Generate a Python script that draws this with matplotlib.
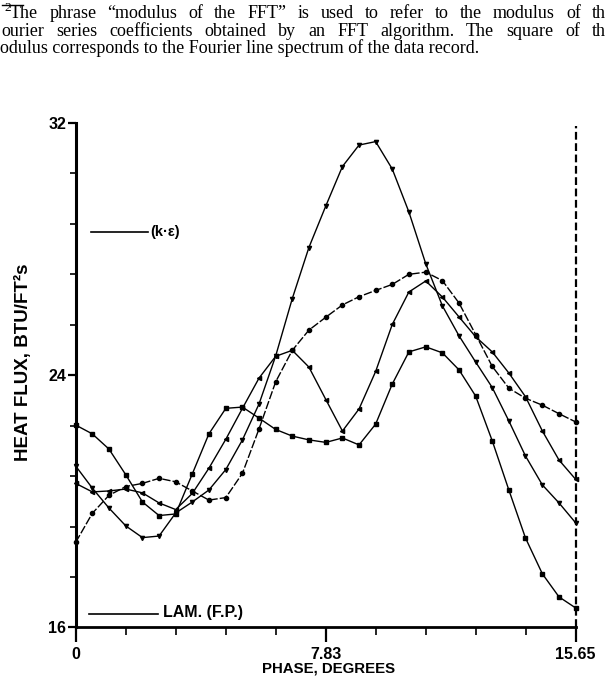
import matplotlib
matplotlib.use("Agg")
import matplotlib.pyplot as plt
from matplotlib.lines import Line2D

# phase grid (degrees) at which the points were plotted
phase = [0.00, 0.52, 1.04, 1.57, 2.09, 2.61, 3.13, 3.65, 4.17, 4.70, 5.22,
         5.74, 6.26, 6.78, 7.30, 7.83, 8.35, 8.87, 9.39, 9.91, 10.43,
         10.96, 11.48, 12.00, 12.52, 13.04, 13.56, 14.08, 14.61, 15.13, 15.65]

# heat flux, BTU/ft^2 s
flux_1 = [22.42, 22.14, 21.66, 20.84, 19.98, 19.55, 19.60, 20.87, 22.14, 22.95, 22.99,
          22.64, 22.28, 22.07, 21.95, 21.87, 22.01, 21.79, 22.45, 23.72, 24.74,
          24.90, 24.71, 24.17, 23.34, 21.92, 20.36, 18.84, 17.70, 16.97, 16.62]
flux_2 = [21.12, 20.42, 19.79, 19.22, 18.85, 18.90, 19.63, 19.98, 20.36, 21.01, 21.95,
          23.09, 24.61, 26.43, 28.05, 29.37, 30.62, 31.30, 31.41, 30.54, 29.18,
          27.53, 26.20, 25.25, 24.42, 23.61, 22.55, 21.44, 20.52, 19.95, 19.32]
flux_3 = [20.57, 20.30, 20.33, 20.39, 20.27, 19.95, 19.74, 20.25, 21.05, 21.97, 22.95,
          23.91, 24.60, 24.79, 24.26, 23.23, 22.23, 22.93, 24.12, 25.61, 26.64,
          26.99, 26.48, 25.85, 25.22, 24.74, 24.07, 23.32, 22.23, 21.31, 20.70]
flux_4 = [18.70, 19.62, 20.19, 20.47, 20.57, 20.73, 20.62, 20.33, 20.04, 20.12, 20.89,
          22.30, 23.79, 24.79, 25.43, 25.84, 26.23, 26.49, 26.69, 26.88, 27.20,
          27.27, 27.00, 26.29, 25.29, 24.28, 23.59, 23.27, 23.05, 22.78, 22.52]

x_labels = ["0", "7.83", "15.65"]
y_labels = ["16", "24", "32"]
legend_labels = ["(k\u00b7\u03b5)", "LAM. (F.P.)"]

footnote = [
    "The phrase \u201cmodulus of the FFT\u201d is used to refer to the modulus of th",
    "ourier series coefficients obtained by an FFT algorithm. The square of th",
    "odulus corresponds to the Fourier line spectrum of the data record.",
]

bold = dict(family="Liberation Sans", fontweight="bold")
serif = dict(family="Liberation Serif", fontsize=13)


def justified(fig, text, x0, x1, y):
    """Spread the words of one line between x0 and x1 (figure pixels)."""
    r = fig.canvas.get_renderer()
    words = text.split()
    arts = [fig.text(0, y, w, va="center", **serif) for w in words]
    widths = [a.get_window_extent(r).width for a in arts]
    gap = (x1 - x0 - sum(widths)) / (len(words) - 1)
    x = x0
    for a, w in zip(arts, widths):
        a.set_x(x / fig.bbox.width)
        x += w + gap


fig = plt.figure(figsize=(6.07, 6.81), dpi=100)
ax = fig.add_axes([0.1247, 0.0786, 0.8236, 0.7408])

line_kw = dict(color="black", lw=1.0, ms=3.0, clip_on=False)
ax.plot(phase, flux_1, marker="s", **line_kw)
ax.plot(phase, flux_2, marker="v", **line_kw)
ax.plot(phase, flux_3, marker="<", **line_kw)
ax.plot(phase, flux_4, marker="o", ls=(0, (6, 1.5)), **line_kw)

# dashed end-of-cycle line
ax.plot([15.65, 15.65], [16, 31.9], color="black", lw=1.6, ls=(0, (3.5, 1.6)), clip_on=False)

ax.set_xlim(0, 15.65)
ax.set_ylim(16, 32)
ax.set_xticks([0, 7.83, 15.65])
ax.set_xticklabels(x_labels, **bold, fontsize=11.5)
ax.set_xticks([15.65 * i / 10 for i in range(11)], minor=True)
ax.set_yticks([16, 24, 32])
ax.set_yticklabels(y_labels, **bold, fontsize=11.5)
ax.set_yticks([16 + 1.6 * i for i in range(11)], minor=True)
ax.tick_params(axis="x", which="major", length=11, width=1.6, pad=3)
ax.tick_params(axis="x", which="minor", length=5.5, width=1.2)
ax.tick_params(axis="y", which="major", length=6, width=1.6, pad=1)
ax.tick_params(axis="y", which="minor", length=4, width=1.2)

for side in ["top", "right"]:
    ax.spines[side].set_visible(False)
ax.spines["left"].set_linewidth(2.2)
ax.spines["bottom"].set_linewidth(2.0)

ax.set_xlabel("PHASE, DEGREES", **bold, fontsize=10.8)
ax.xaxis.set_label_coords(0.505, -0.068)
ax.set_ylabel("HEAT FLUX, BTU/FT\u00b2s", **bold, fontsize=13.5)
ax.yaxis.set_label_coords(-0.088, 0.526)

# hand-drawn legend keys
ax.plot([0.031, 0.145], [0.784, 0.784], transform=ax.transAxes, color="black", lw=1.2)
ax.text(0.149, 0.784, legend_labels[0], transform=ax.transAxes, va="center", ha="left",
        **bold, fontsize=10.5)
ax.plot([0.027, 0.165], [0.027, 0.027], transform=ax.transAxes, color="black", lw=1.2)
ax.text(0.175, 0.029, legend_labels[1], transform=ax.transAxes, va="center", ha="left",
        **bold, fontsize=11.5)

# footnote text from the page above the chart (justified lines)
fig.add_artist(Line2D([0.003, 0.038], [0.9925, 0.9925], color="black", lw=1.0))
fig.text(0.007, 0.9885, "2", family="Liberation Serif", fontsize=9.5, va="center")
justified(fig, footnote[0], 10, 606, 1 - 13 / 681)
justified(fig, footnote[1], 1, 606, 1 - 31 / 681)
fig.text(0.0, 1 - 48 / 681, footnote[2], va="center", **serif)

fig.savefig("out.png", dpi=100)
